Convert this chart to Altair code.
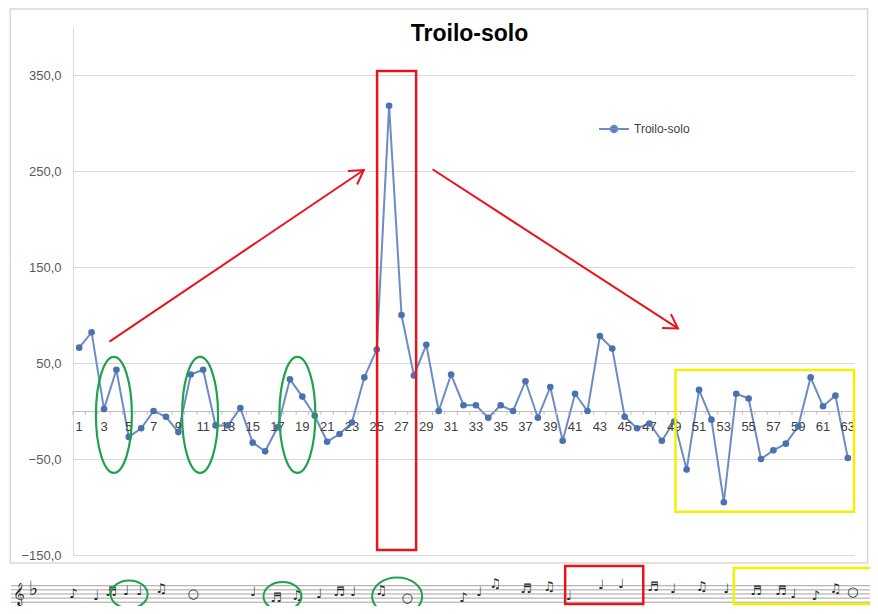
import math
import altair as alt
import pandas as pd

# ---------------- data ----------------
categories = list(range(1, 64))
values = [66, 82, 2, 43, -27, -18, 0, -6, -22, 38,
          43, -15, -15, 3, -33, -42, -17, 33, 15, -5,
          -32, -24, -12, 35, 64, 318, 100, 37, 69, 0,
          38, 6, 6, -7, 6, 0, 31, -7, 25, -31,
          18, 0, 78, 65, -6, -18, -13, -31, -11, -61,
          22, -9, -95, 18, 13, -50, -41, -34, -16, 35,
          5, 16, -49]
series_name = "Troilo-solo"
y_ticks = [-150, -50, 50, 150, 250, 350]
x_labels = list(range(1, 64, 2))

# annotations (in data units: category index / value)
arrow_x = [3.44, 29.5]
arrow_y = [72.2, 251.8]
arrow_x2 = [23.96, 49.3]
arrow_y2 = [251.0, 86.0]

red_box_x = [25.03]
red_box_x2 = [28.18]
red_box_y = [354.2]
red_box_y2 = [-144.8]

yellow_box_x = [49.1]
yellow_box_x2 = [63.5]
yellow_box_y = [42.7]
yellow_box_y2 = [-105.0]

green_ell_x = [3.8, 10.75, 18.6]
green_ell_y = [-4.0, -4.0, -4.0]

# music strip below the chart (data units)
staff_levels = [-182.0, -186.3, -190.6, -194.9, -199.2]
staff_x = [-4.5]
staff_x2 = [64.8]
note_x = [0.52, 2.37, 3.58, 4.79, 5.84, 7.61, 10.19, 15.03, 16.89, 18.58,
          20.35, 21.97, 23.1, 25.35, 27.45, 31.97, 33.26, 34.55, 37.05, 38.9,
          40.5, 43.1, 44.7, 47.3, 48.9, 51.2, 53.2, 55.6, 57.6, 58.6,
          60.4, 62.0, 63.4]
note_y = [-191.0, -193.0, -189.0, -187.0, -187.0, -185.0, -191.0, -189.0, -195.0, -193.0,
          -191.0, -189.0, -189.0, -187.0, -195.0, -195.0, -189.0, -180.0, -185.0, -183.0,
          -193.0, -181.0, -180.0, -183.0, -185.0, -183.0, -185.0, -187.0, -187.0, -191.0,
          -193.0, -185.0, -189.0]
note_glyph = ["♪", "♩", "♬", "♩", "♩", "♫", "○", "♩", "♬", "♫",
              "♩", "♬", "♩", "♫", "○", "♪", "♩", "♫", "♬", "♫",
              "♩", "♩", "♩", "♬", "♩", "♫", "♩", "♬", "♬", "♩",
              "♪", "♫", "○"]
clef_x = [-3.84, -2.71]
clef_y = [-191.0, -185.0]
clef_glyph = ["𝄞", "♭"]
staff_ell_x = [5.03, 17.4, 26.65]
staff_ell_y = [-191.0, -193.0, -193.0]
staff_ell_size = [1369, 1444, 2500]
staff_red_x, staff_red_x2, staff_red_y, staff_red_y2 = [40.2], [46.5], [-161.5], [-201.0]
staff_yel_x, staff_yel_x2, staff_yel_y, staff_yel_y2 = [53.8], [64.9], [-163.5], [-201.0]

frame_x, frame_x2, frame_y, frame_y2 = [-4.56], [64.6], [418.7], [-158.3]

# ---------------- layout ----------------
W, H = 781, 528
X_DOM = [0.5, 63.5]
Y_DOM = [-150, 400]
sx = W / (X_DOM[1] - X_DOM[0])
sy = H / (Y_DOM[1] - Y_DOM[0])
ZERO_OFFSET = -round(H - (Y_DOM[1] - 0) * sy)  # move x axis up to value 0

LINE_COLOR = "#6b8dc4"
DOT_COLOR = "#4a72b0"
FONT = "Liberation Sans"

xs = alt.Scale(domain=X_DOM, nice=False, zero=False)
ys = alt.Scale(domain=Y_DOM, nice=False, zero=False)


def X(field):
    return alt.X(field, scale=xs)


def Y(field):
    return alt.Y(field, scale=ys)


df = pd.DataFrame({"cat": categories, "val": values, "series": [series_name] * len(values)})

x_enc = alt.X("cat:Q", scale=xs,
              axis=alt.Axis(values=x_labels, offset=ZERO_OFFSET, labels=False,
                            title=None, grid=False, ticks=False, domain=True,
                            domainColor="#bfbfbf", domainWidth=1))
y_enc = alt.Y("val:Q", scale=ys,
              axis=alt.Axis(values=y_ticks, title=None, grid=True, gridColor="#d9d9d9",
                            gridWidth=1, ticks=False, domain=True, domainColor="#d9d9d9",
                            labelFontSize=13, labelColor="#595959", labelFont=FONT,
                            labelPadding=12, labelOverlap=False,
                            labelExpr="replace(format(datum.value, '.1f'), '.', ',')"))

legend_symbol = ("M-1,0 L1,0 M-0.22,0 A0.22,0.22 0 1,1 0.22,0 "
                 "A0.22,0.22 0 1,1 -0.22,0 Z")

frame = alt.Chart(pd.DataFrame({"x": frame_x, "x2": frame_x2, "y": frame_y, "y2": frame_y2})).mark_rect(
    fillOpacity=0, stroke="#d9d9d9", strokeWidth=1.5).encode(
    x=X("x:Q"), x2="x2:Q", y=Y("y:Q"), y2="y2:Q")

bound_df = pd.DataFrame({"x": [k + 0.5 for k in range(0, 64)], "y": [0] * 64, "y2": [-4] * 64})
bound_ticks = alt.Chart(bound_df).mark_rule(color="#bfbfbf", strokeWidth=1).encode(
    x=X("x:Q"), y=Y("y:Q"), y2="y2:Q")

xlab_df = pd.DataFrame({"x": x_labels, "y": [0] * len(x_labels), "t": [str(v) for v in x_labels]})
x_label_text = alt.Chart(xlab_df).mark_text(
    font=FONT, fontSize=13, color="#404040", baseline="middle", dy=16).encode(
    x=X("x:Q"), y=Y("y:Q"), text="t:N")

line = alt.Chart(df).mark_line(strokeWidth=2).encode(
    x=x_enc, y=y_enc,
    color=alt.Color("series:N", scale=alt.Scale(range=[LINE_COLOR]),
                    legend=alt.Legend(title=None, orient="none", legendX=525, legendY=86,
                                      symbolType=legend_symbol, symbolSize=900,
                                      symbolStrokeWidth=2, symbolFillColor=DOT_COLOR,
                                      labelFontSize=12, labelColor="#404040",
                                      labelFont=FONT, padding=0)))

points = alt.Chart(df).mark_point(filled=True, opacity=1, size=44).encode(
    x=X("cat:Q"), y=Y("val:Q"), color=alt.value(DOT_COLOR))

red_box = alt.Chart(pd.DataFrame({"x": red_box_x, "x2": red_box_x2, "y": red_box_y, "y2": red_box_y2})).mark_rect(
    fillOpacity=0, stroke="#e8141c", strokeWidth=2.5).encode(
    x=X("x:Q"), x2="x2:Q", y=Y("y:Q"), y2="y2:Q")

yellow_box = alt.Chart(pd.DataFrame({"x": yellow_box_x, "x2": yellow_box_x2, "y": yellow_box_y, "y2": yellow_box_y2})).mark_rect(
    fillOpacity=0, stroke="#f5f000", strokeWidth=2.5).encode(
    x=X("x:Q"), x2="x2:Q", y=Y("y:Q"), y2="y2:Q")

ellipse_path = "M0,-1 A0.31,1 0 1,1 0,1 A0.31,1 0 1,1 0,-1 Z"
green_ells = alt.Chart(pd.DataFrame({"x": green_ell_x, "y": green_ell_y})).mark_point(
    shape=ellipse_path, filled=False, size=116 * 116, stroke="#1ea34b", strokeWidth=2.2, opacity=1).encode(
    x=X("x:Q"), y=Y("y:Q"))

arrow_df = pd.DataFrame({"x": arrow_x, "y": arrow_y, "x2": arrow_x2, "y2": arrow_y2})
arrow_df["angle"] = [math.degrees(math.atan2((b - a) * sx, (d - c) * sy))
                     for a, b, c, d in zip(arrow_x, arrow_x2, arrow_y, arrow_y2)]
arrow_lines = alt.Chart(arrow_df).mark_rule(color="#e8141c", strokeWidth=2).encode(
    x=X("x:Q"), y=Y("y:Q"), x2="x2:Q", y2="y2:Q")
arrow_heads = alt.Chart(arrow_df).mark_point(
    shape="M-0.6,1 L0,0 L0.6,1", filled=False, size=750, stroke="#e8141c", strokeWidth=2, opacity=1).encode(
    x=X("x2:Q"), y=Y("y2:Q"), angle=alt.Angle("angle:Q", scale=None))

# music strip
staff_df = pd.DataFrame({"y": staff_levels, "x": staff_x * 5, "x2": staff_x2 * 5})
staff = alt.Chart(staff_df).mark_rule(color="#8a8a8a", strokeWidth=0.8).encode(
    x=X("x:Q"), x2="x2:Q", y=Y("y:Q"))
notes = alt.Chart(pd.DataFrame({"x": note_x, "y": note_y, "t": note_glyph})).mark_text(
    font="DejaVu Sans", fontSize=13, color="#222222", baseline="middle").encode(
    x=X("x:Q"), y=Y("y:Q"), text="t:N")
clef = alt.Chart(pd.DataFrame({"x": clef_x, "y": clef_y, "t": clef_glyph})).mark_text(
    font="DejaVu Sans", fontSize=20, color="#222222", baseline="middle").encode(
    x=X("x:Q"), y=Y("y:Q"), text="t:N")
staff_ells = alt.Chart(pd.DataFrame({"x": staff_ell_x, "y": staff_ell_y, "s": staff_ell_size})).mark_point(
    shape="M-1,0 A1,0.75 0 1,1 1,0 A1,0.75 0 1,1 -1,0 Z", filled=False, stroke="#1ea34b",
    strokeWidth=2, opacity=1).encode(
    x=X("x:Q"), y=Y("y:Q"), size=alt.Size("s:Q", scale=None, legend=None))
staff_red = alt.Chart(pd.DataFrame({"x": staff_red_x, "x2": staff_red_x2, "y": staff_red_y, "y2": staff_red_y2})).mark_rect(
    fillOpacity=0, stroke="#e8141c", strokeWidth=2.5).encode(
    x=X("x:Q"), x2="x2:Q", y=Y("y:Q"), y2="y2:Q")
staff_yel = alt.Chart(pd.DataFrame({"x": staff_yel_x, "x2": staff_yel_x2, "y": staff_yel_y, "y2": staff_yel_y2})).mark_rect(
    fillOpacity=0, stroke="#f5f000", strokeWidth=2.5).encode(
    x=X("x:Q"), x2="x2:Q", y=Y("y:Q"), y2="y2:Q")

chart = alt.layer(
    line, frame, bound_ticks, x_label_text, points, red_box, yellow_box, green_ells,
    arrow_lines, arrow_heads, staff, notes, clef, staff_ells, staff_red, staff_yel
).properties(
    width=W, height=H,
    padding={"left": 65, "top": 19, "right": 16, "bottom": 51},
    autosize=alt.AutoSizeParams(type="none"),
    title=alt.TitleParams(series_name, fontSize=23, fontWeight="bold", font=FONT, color="#000000",
                          anchor="middle", offset=-38, dx=6),
    background="white",
).configure_view(stroke=None).configure_axis(
    labelOverlap=False, labelBound=False, labelFlush=False, title=None
)

chart.save("out.html", embed_options={"renderer": "svg", "actions": False})
